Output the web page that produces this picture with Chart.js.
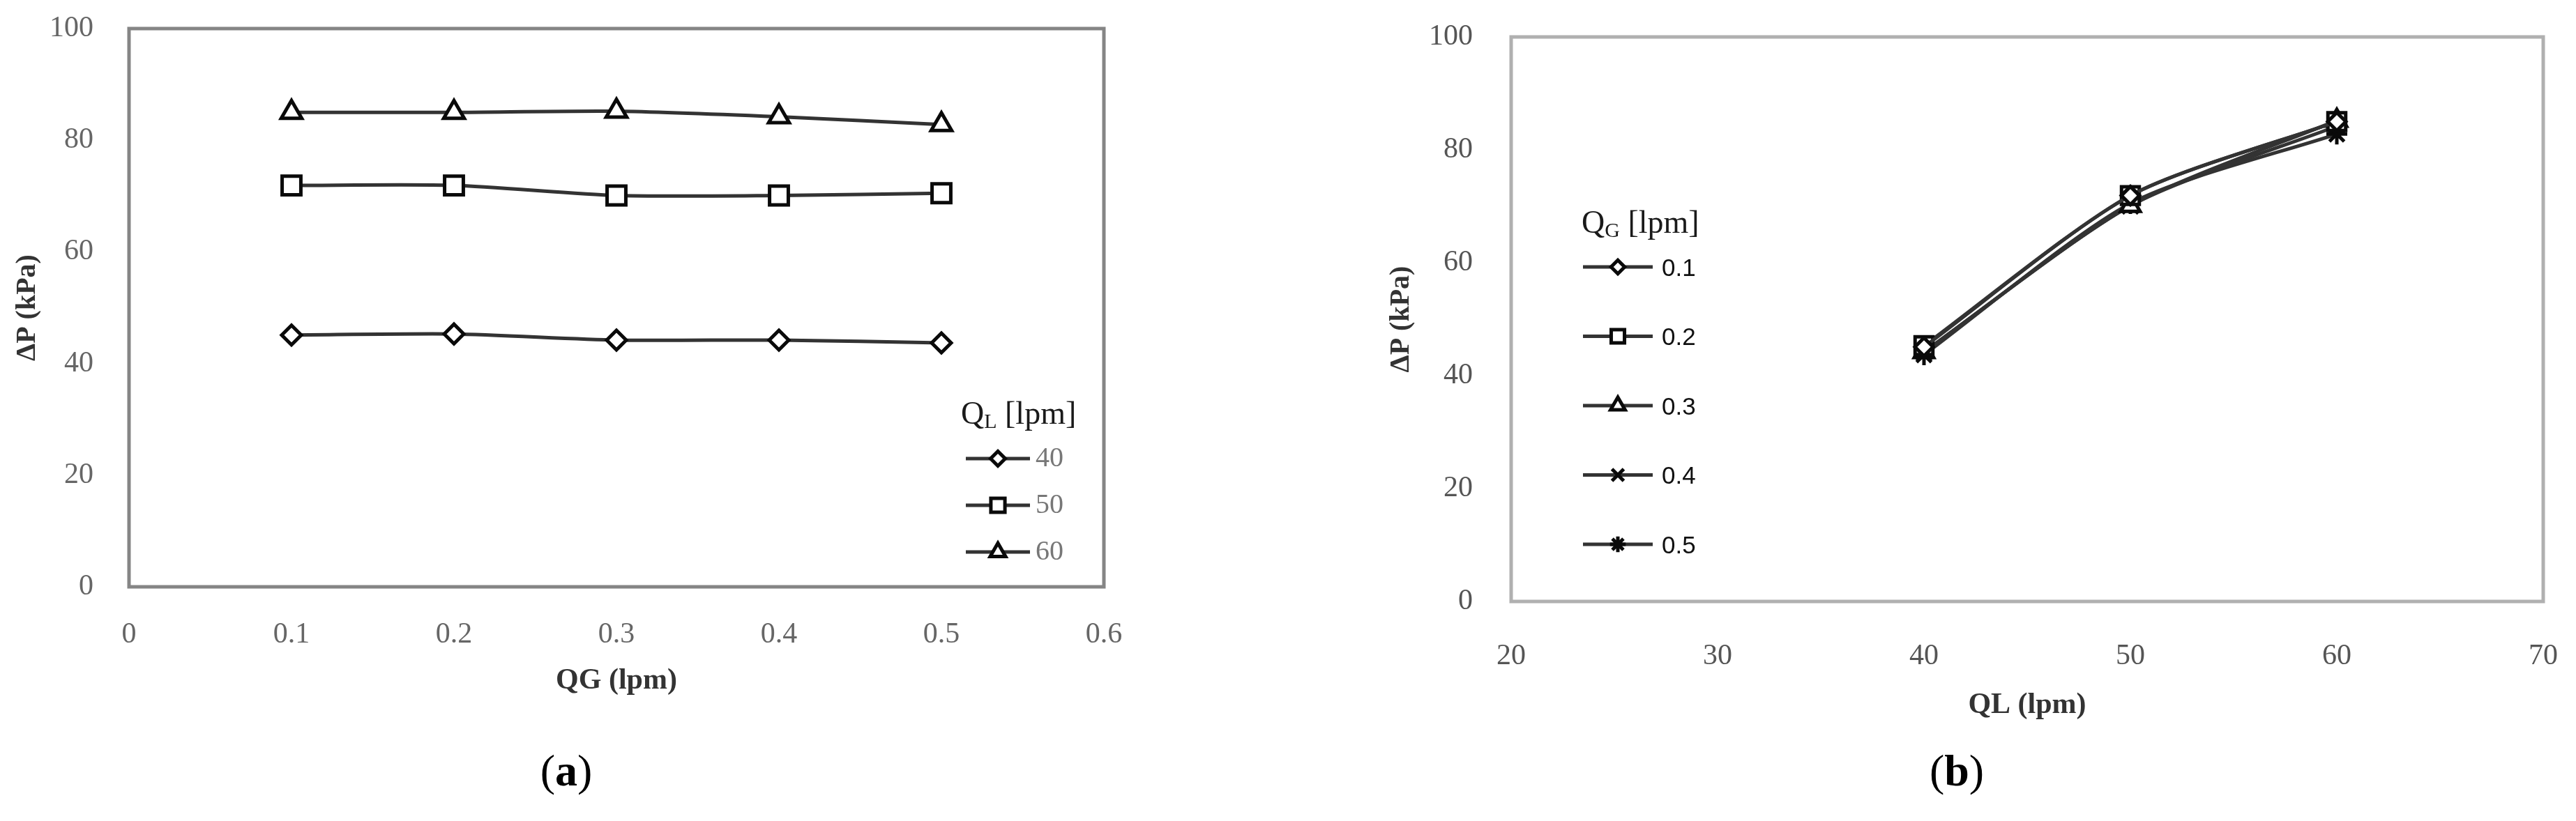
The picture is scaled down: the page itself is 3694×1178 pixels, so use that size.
<!DOCTYPE html>
<html>
<head>
<meta charset="utf-8">
<script src="https://cdn.jsdelivr.net/npm/chart.js@4/dist/chart.umd.min.js"></script>
<style>
  html, body { margin: 0; padding: 0; background: #ffffff; }
  body { width: 3694px; height: 1178px; position: relative; overflow: hidden; }
  canvas { position: absolute; top: 0; }
  #chartA { left: 0; }
  #chartB { left: 1880px; }
  .cap {
    position: absolute; top: 1106px;
    transform: translate(-50%, -50%);
    font-family: "Liberation Serif", serif; font-size: 64px; color: #000;
  }
</style>
</head>
<body>
<canvas id="chartA" width="1640" height="1002"></canvas>
<canvas id="chartB" width="1814" height="1037"></canvas>
<div class="cap" style="left:812px">(<b>a</b>)</div>
<div class="cap" style="left:2806px">(<b>b</b>)</div>

<script>
// (a) pressure drop vs gas flow, one series per liquid flow
const qgValues = [0.1, 0.2, 0.3, 0.4, 0.5];
const qlLabels = ["40", "50", "60"];
const dpQL40 = [45.1, 45.3, 44.2, 44.2, 43.7];
const dpQL50 = [71.9, 71.9, 70.1, 70.1, 70.5];
const dpQL60 = [85.0, 85.0, 85.2, 84.2, 82.8];

// (b) pressure drop vs liquid flow, one series per gas flow
const qlValues = [40, 50, 60];
const qgLabels = ["0.1", "0.2", "0.3", "0.4", "0.5"];
const dpQG01 = [45.1, 71.9, 85.0];
const dpQG02 = [45.3, 71.9, 85.0];
const dpQG03 = [44.2, 70.1, 85.2];
const dpQG04 = [44.2, 70.1, 84.2];
const dpQG05 = [43.7, 70.5, 82.8];

const xTicksA = [0, 0.1, 0.2, 0.3, 0.4, 0.5, 0.6];
const xTicksB = [20, 30, 40, 50, 60, 70];
const yTicks = [0, 20, 40, 60, 80, 100];

const SERIF = "'Liberation Serif', 'DejaVu Serif', serif";
const SANS = "'Liberation Sans', Arial, sans-serif";

function toPoints(xs, ys) {
  return xs.map((x, i) => ({ x: x, y: ys[i] }));
}

function series(label, xs, ys, style, radius) {
  return {
    label: label,
    data: toPoints(xs, ys),
    borderColor: "#333333",
    borderWidth: 5,
    tension: 0.25,
    pointStyle: style,
    pointRadius: radius,
    pointBackgroundColor: "#ffffff",
    pointBorderColor: "#0a0a0a",
    pointBorderWidth: 5,
    fill: false,
  };
}

// grey frame round the plot area
const frame = {
  id: "frame",
  beforeDatasetsDraw(chart, args, opts) {
    const a = chart.chartArea;
    const ctx = chart.ctx;
    ctx.save();
    ctx.strokeStyle = opts.color;
    ctx.lineWidth = opts.width;
    ctx.strokeRect(a.left, a.top, a.right - a.left, a.bottom - a.top);
    ctx.restore();
  },
};

// legend drawn inside the plot, as in the original figure
const insideLegend = {
  id: "insideLegend",
  afterDraw(chart, args, opts) {
    const ctx = chart.ctx;
    ctx.save();
    ctx.textAlign = "left";
    ctx.textBaseline = "middle";
    ctx.fillStyle = "#1a1a1a";
    ctx.font = "46px " + SERIF;
    let x = opts.titleX;
    ctx.fillText("Q", x, opts.titleY);
    x += ctx.measureText("Q").width;
    ctx.font = "30px " + SERIF;
    ctx.fillText(opts.sub, x, opts.titleY + 10);
    x += ctx.measureText(opts.sub).width;
    ctx.font = "46px " + SERIF;
    ctx.fillText(" [lpm]", x, opts.titleY);

    chart.data.datasets.forEach((ds, i) => {
      const y = opts.y0 + i * opts.dy;
      ctx.strokeStyle = ds.borderColor;
      ctx.lineWidth = ds.borderWidth;
      ctx.beginPath();
      ctx.moveTo(opts.x0, y);
      ctx.lineTo(opts.x1, y);
      ctx.stroke();
      ctx.fillStyle = ds.pointBackgroundColor;
      ctx.strokeStyle = ds.pointBorderColor;
      ctx.lineWidth = ds.pointBorderWidth;
      Chart.helpers.drawPoint(ctx, {
        pointStyle: ds.pointStyle,
        radius: ds.pointRadius * 0.75,
        borderWidth: ds.pointBorderWidth,
        rotation: 0,
      }, (opts.x0 + opts.x1) / 2, y);
      ctx.fillStyle = opts.textColor;
      ctx.font = opts.textFont;
      ctx.fillText(ds.label, opts.textX, y + opts.textDy);
    });
    ctx.restore();
  },
};

function axisOptions(cfg) {
  return {
    x: {
      type: "linear",
      min: cfg.xTicks[0],
      max: cfg.xTicks[cfg.xTicks.length - 1],
      afterBuildTicks: (s) => { s.ticks = cfg.xTicks.map((v) => ({ value: v })); },
      afterFit: (s) => {
        s.height = cfg.xHeight;
        s.paddingLeft = 0;
        s.paddingRight = 0;
      },
      grid: { display: false },
      border: { display: false },
      ticks: {
        padding: cfg.xPad,
        color: cfg.tickColor,
        font: { family: SERIF, size: 42 },
        maxRotation: 0,
        autoSkip: false,
        callback: cfg.xFormat,
      },
      title: {
        display: true,
        text: cfg.xTitle,
        color: "#333",
        font: { family: SERIF, size: 42, weight: "bold" },
        padding: { top: 0, bottom: 0 },
      },
    },
    y: {
      min: 0,
      max: 100,
      afterBuildTicks: (s) => { s.ticks = yTicks.map((v) => ({ value: v })); },
      afterFit: (s) => {
        s.width = cfg.yWidth;
        s.paddingTop = 0;
        s.paddingBottom = 0;
      },
      grid: { display: false },
      border: { display: false },
      ticks: {
        padding: cfg.yPad,
        color: cfg.tickColor,
        font: { family: SERIF, size: 42 },
      },
      title: {
        display: true,
        text: "ΔP (kPa)",
        color: "#333",
        font: { family: SERIF, size: 40, weight: "bold" },
        padding: { top: cfg.yTitlePad, bottom: 0 },
      },
    },
  };
}

new Chart(document.getElementById("chartA"), {
  type: "line",
  data: {
    datasets: [
      series(qlLabels[0], qgValues, dpQL40, "rectRot", 14),
      series(qlLabels[1], qgValues, dpQL50, "rect", 19),
      series(qlLabels[2], qgValues, dpQL60, "triangle", 17),
    ],
  },
  options: {
    responsive: false,
    animation: false,
    devicePixelRatio: 1,
    layout: { padding: { top: 41, right: 57, left: 0, bottom: 0 } },
    plugins: {
      legend: { display: false },
      tooltip: { enabled: false },
      frame: { color: "#858585", width: 5 },
      insideLegend: {
        sub: "L", titleX: 1378, titleY: 596,
        x0: 1385, x1: 1477, y0: 658, dy: 67,
        textX: 1485, textDy: 0, textColor: "#777",
        textFont: "40px " + SERIF,
      },
    },
    scales: axisOptions({
      xTicks: xTicksA, xHeight: 160, xPad: 36, yWidth: 185, yPad: 43,
      yTitlePad: 16, tickColor: "#666", xTitle: "QG (lpm)",
      xFormat: (v) => (v === 0 ? "0" : v.toFixed(1)),
    }),
  },
  plugins: [frame, insideLegend],
});

new Chart(document.getElementById("chartB"), {
  type: "line",
  data: {
    datasets: [
      series(qgLabels[0], qlValues, dpQG01, "rectRot", 13),
      series(qgLabels[1], qlValues, dpQG02, "rect", 18),
      series(qgLabels[2], qlValues, dpQG03, "triangle", 16),
      series(qgLabels[3], qlValues, dpQG04, "crossRot", 16),
      series(qgLabels[4], qlValues, dpQG05, "star", 15),
    ],
  },
  options: {
    responsive: false,
    animation: false,
    devicePixelRatio: 1,
    layout: { padding: { top: 53, right: 47, left: 0, bottom: 0 } },
    plugins: {
      legend: { display: false },
      tooltip: { enabled: false },
      frame: { color: "#b0b0b0", width: 5 },
      insideLegend: {
        sub: "G", titleX: 388, titleY: 322,
        x0: 390, x1: 490, y0: 383, dy: 99.5,
        textX: 503, textDy: 3, textColor: "#111",
        textFont: "35px " + SANS,
      },
    },
    scales: axisOptions({
      xTicks: xTicksB, xHeight: 174, xPad: 46, yWidth: 287, yPad: 47,
      yTitlePad: 106, tickColor: "#555", xTitle: "QL (lpm)",
      xFormat: (v) => String(v),
    }),
  },
  plugins: [frame, insideLegend],
});
</script>
</body>
</html>
